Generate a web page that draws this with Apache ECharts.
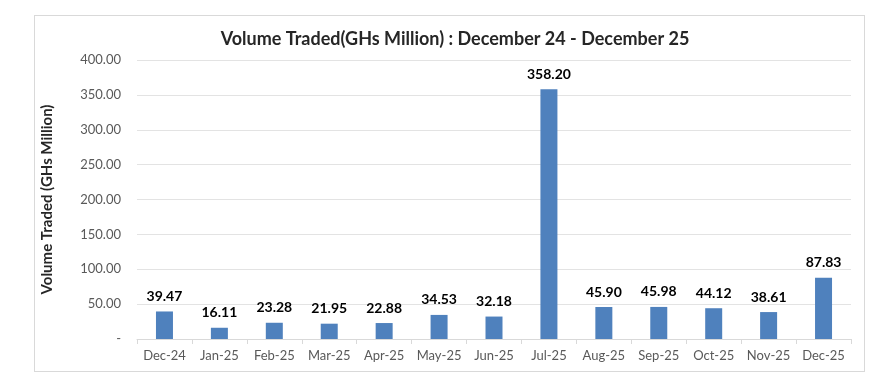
<!DOCTYPE html>
<html><head><meta charset="utf-8">
<script src="https://cdn.jsdelivr.net/npm/echarts@6/dist/echarts.min.js"></script>
<style>html,body{margin:0;padding:0;background:#fff}#c{width:896px;height:384px}
#box{position:absolute;left:34px;top:15px;width:831px;height:357px;border:1px solid #d9d9d9;box-sizing:border-box;pointer-events:none}</style>
</head><body><div id="c"></div><div id="box"></div>
<script>
const categories = ['Dec-24','Jan-25','Feb-25','Mar-25','Apr-25','May-25','Jun-25','Jul-25','Aug-25','Sep-25','Oct-25','Nov-25','Dec-25'];
const volumes = [39.47,16.11,23.28,21.95,22.88,34.53,32.18,358.20,45.90,45.98,44.12,38.61,87.83];
const titleText = 'Volume Traded(GHs Million) : December 24 - December 25';
const yAxisTitle = 'Volume Traded (GHs Million)';
const font = 'Lato, "Open Sans", sans-serif';
const chart = echarts.init(document.getElementById('c'));
chart.setOption({
  animation:false,
  title:{text:titleText,left:450,top:25,textAlign:'center',textStyle:{fontFamily:font,fontSize:18,fontWeight:'bold',color:'#262626'}},
  grid:{left:137,right:45,top:60,bottom:45,containLabel:false},
  xAxis:{type:'category',data:categories,
    axisLine:{lineStyle:{color:'#d9d9d9'}},
    axisTick:{show:true,length:5,lineStyle:{color:'#d9d9d9'}},
    axisLabel:{interval:0,fontFamily:font,fontSize:13,color:'#595959',margin:10}},
  yAxis:{type:'value',min:0,max:400,interval:50,
    name:yAxisTitle,nameLocation:'middle',nameGap:82,
    nameTextStyle:{fontFamily:font,fontSize:15,fontWeight:'bold',color:'#262626'},
    axisLine:{show:false},axisTick:{show:false},
    splitLine:{lineStyle:{color:'#e3e3e3'}},
    axisLabel:{fontFamily:font,fontSize:13,color:'#595959',margin:16,
      formatter:v=>v===0?'-':v.toFixed(2)}},
  series:[{type:'bar',data:volumes,barWidth:17,
    itemStyle:{color:'#4f81bd'},
    label:{show:true,position:'top',distance:8,fontFamily:font,fontSize:14,fontWeight:'bold',color:'#000',
      formatter:p=>p.value.toFixed(2)}}]
});
</script></body></html>
